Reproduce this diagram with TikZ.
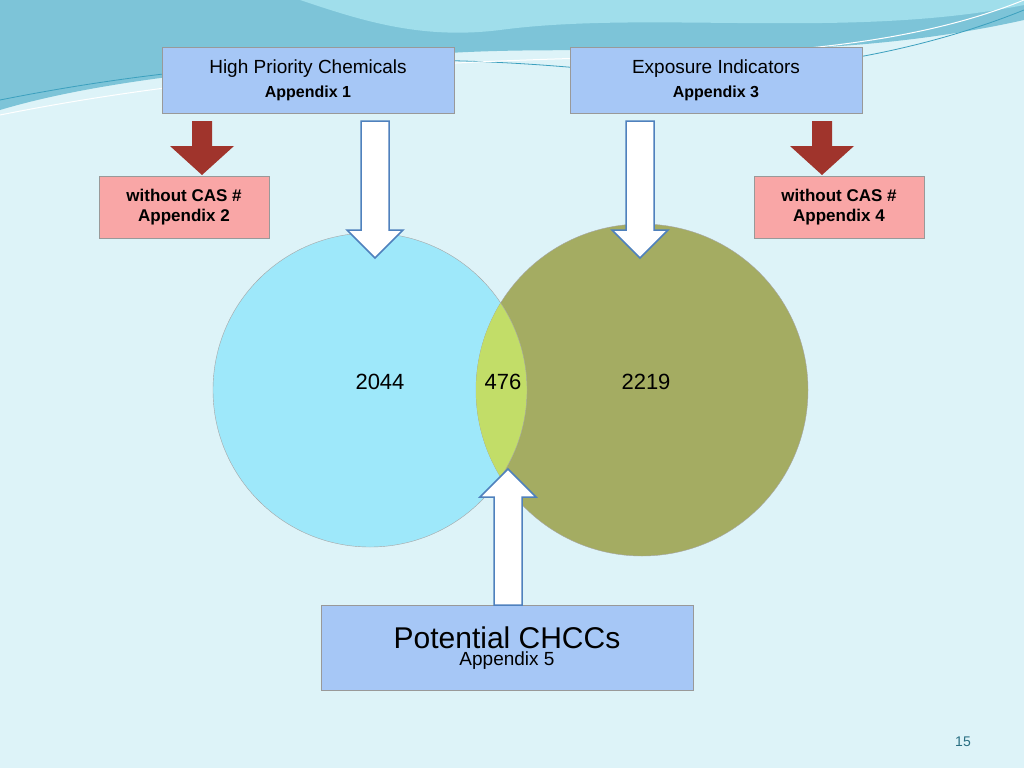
\documentclass[tikz,border=0pt]{standalone}
\usepackage{fontspec}
\setmainfont{Liberation Sans}
\definecolor{bg}{RGB}{221,243,248}
\definecolor{waveA}{RGB}{125,196,216}
\definecolor{waveB}{RGB}{160,222,235}
\definecolor{waveL}{RGB}{60,160,190}
\definecolor{cl}{RGB}{158,232,250}
\definecolor{cr}{RGB}{164,172,98}
\definecolor{ci}{RGB}{194,221,104}
\definecolor{bx}{RGB}{166,199,246}
\definecolor{pk}{RGB}{249,166,166}
\definecolor{ab}{RGB}{79,129,189}
\definecolor{ar}{RGB}{160,52,44}
\definecolor{pgc}{RGB}{40,110,130}
\begin{document}
\begin{tikzpicture}[x=1pt,y=-1pt,
 blue/.style={draw=gray!80,fill=bx,line width=0.8pt,align=center,inner sep=0pt},
 pink/.style={draw=gray!80,fill=pk,line width=0.8pt,align=center,inner sep=0pt,font=\fontsize{17}{20}\selectfont\bfseries},
 warr/.style={fill=white,draw=ab,line width=1.5pt},
 rarr/.style={fill=ar,draw=none}]
\useasboundingbox (0,0) rectangle (1024,768);
\fill[bg] (0,0) rectangle (1024,768);
\fill[waveA] (0,0) -- (1024,0) -- (1024,20) .. controls (800,70) and (600,40) .. (420,55) .. controls (250,65) and (100,80) .. (0,110) -- cycle;
\fill[waveB] (300,0) -- (1024,0) -- (1024,5) .. controls (850,40) and (650,10) .. (500,30) .. controls (420,40) and (360,20) .. (300,0) -- cycle;
\draw[waveL,line width=0.8pt] (0,100) .. controls (200,60) and (400,50) .. (600,70) .. controls (800,85) and (950,40) .. (1024,10);
\draw[white,line width=1pt] (0,115) .. controls (250,65) and (500,60) .. (700,55) .. controls (850,50) and (950,30) .. (1024,0);
\fill[cl] (370,390) circle [radius=157pt];
\fill[cr] (642,390) circle [radius=166pt];
\draw[gray!70] (642,390) circle [radius=166pt];
\begin{scope}
\clip (370,390) circle [radius=157pt];
\fill[ci] (642,390) circle [radius=166pt];
\end{scope}
\draw[gray!70] (370,390) circle [radius=157pt];
\node[font=\fontsize{22}{26}\selectfont] (n1) at (380,382) {2044};
\node[font=\fontsize{22}{26}\selectfont] (n2) at (503,382) {476};
\node[font=\fontsize{22}{26}\selectfont] (n3) at (646,382) {2219};
\node[blue,minimum width=292pt,minimum height=66pt,font=\fontsize{19}{24}\selectfont] (hp) at (308,80) {High Priority Chemicals\\\textbf{\fontsize{16}{20}\selectfont Appendix 1}};
\node[blue,minimum width=292pt,minimum height=66pt,font=\fontsize{19}{24}\selectfont] (ei) at (716,80) {Exposure Indicators\\\textbf{\fontsize{16}{20}\selectfont Appendix 3}};
\node[pink,minimum width=170pt,minimum height=62pt] (w2) at (184,207) {without CAS \#\\Appendix 2};
\node[pink,minimum width=170pt,minimum height=62pt] (w4) at (839,207) {without CAS \#\\Appendix 4};
\node[blue,minimum width=372pt,minimum height=85pt] (pc) at (507,648) {{\fontsize{30}{34}\selectfont Potential CHCCs}\\[2pt]{\fontsize{19}{22}\selectfont Appendix 5}};
\fill[rarr] (192,121) -- (212,121) -- (212,146) -- (234,146) -- (202,175) -- (170,146) -- (192,146) -- cycle;
\fill[rarr] (812,121) -- (832,121) -- (832,146) -- (854,146) -- (822,175) -- (790,146) -- (812,146) -- cycle;
\draw[warr] (361,121) -- (389,121) -- (389,230) -- (403,230) -- (375,258) -- (347,230) -- (361,230) -- cycle;
\draw[warr] (626,121) -- (654,121) -- (654,230) -- (668,230) -- (640,258) -- (612,230) -- (626,230) -- cycle;
\draw[warr] (494,605) -- (522,605) -- (522,497) -- (536,497) -- (508,469) -- (480,497) -- (494,497) -- cycle;
\node[text=pgc,font=\fontsize{14}{16}\selectfont] (pg) at (963,742) {15};
\end{tikzpicture}
\end{document}
